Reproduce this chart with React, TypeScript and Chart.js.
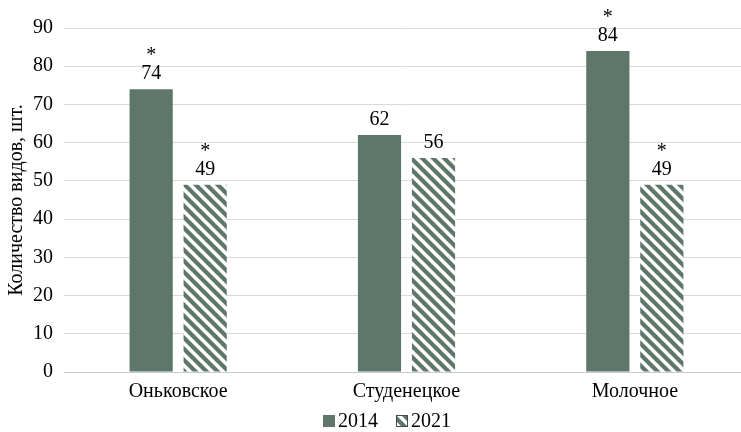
import React, { useEffect, useRef } from 'react';
import { Chart, registerables } from 'chart.js';

Chart.register(...registerables);

const categories = ['Оньковское', 'Студенецкое', 'Молочное'];
const seriesNames = ['2014', '2021'];
const values2014 = [74, 62, 84];
const values2021 = [49, 56, 49];
const stars2014 = [true, false, true];
const stars2021 = [true, false, true];
const yMin = 0;
const yMax = 90;
const yStep = 10;
const yTitle = 'Количество видов, шт.';

const FONT = "'Liberation Serif', 'Times New Roman', serif";
const GREEN = '#5f776b';

function makeHatch(color: string): CanvasPattern | string {
  const s = 11;
  const c = document.createElement('canvas');
  c.width = s;
  c.height = s;
  const ctx = c.getContext('2d');
  if (!ctx) return color;
  ctx.fillStyle = '#ffffff';
  ctx.fillRect(0, 0, s, s);
  ctx.strokeStyle = color;
  ctx.lineWidth = 4.2;
  for (const o of [-s, 0, s]) {
    ctx.beginPath();
    ctx.moveTo(o - 2, -2);
    ctx.lineTo(o + s + 2, s + 2);
    ctx.stroke();
  }
  return ctx.createPattern(c, 'repeat') || color;
}

const starsBySeries = [stars2014, stars2021];

const labelPlugin = {
  id: 'valueLabels',
  afterDatasetsDraw(chart: any) {
    const ctx = chart.ctx;
    ctx.save();
    ctx.fillStyle = '#000';
    ctx.textAlign = 'center';
    ctx.textBaseline = 'alphabetic';
    chart.data.datasets.forEach((ds: any, di: number) => {
      const meta = chart.getDatasetMeta(di);
      meta.data.forEach((bar: any, i: number) => {
        const v = ds.data[i];
        ctx.font = `20px ${FONT}`;
        ctx.fillText(String(v), bar.x, bar.y - 10);
        if (starsBySeries[di][i]) {
          ctx.fillText('*', bar.x, bar.y - 28);
        }
      });
    });
    ctx.restore();
  },
};

const legendPlugin = {
  id: 'customLegend',
  afterDraw(chart: any) {
    const ctx = chart.ctx;
    ctx.save();
    ctx.font = `20px ${FONT}`;
    ctx.textBaseline = 'middle';
    ctx.textAlign = 'left';
    const box = 12;
    const gapBoxText = 3;
    const gapItems = 18;
    const items = chart.data.datasets.map((ds: any) => ({
      label: ds.label,
      fill: ds.backgroundColor,
      w: box + gapBoxText + ctx.measureText(ds.label).width,
    }));
    const total = items.reduce((s: number, it: any) => s + it.w, 0) + gapItems * (items.length - 1);
    const cx = 387;
    const cy = 421;
    let x = cx - total / 2;
    items.forEach((it: any, idx: number) => {
      ctx.fillStyle = it.fill;
      ctx.fillRect(x, cy - box / 2, box, box);
      if (idx === 1) {
        ctx.strokeStyle = '#3f4f47';
        ctx.lineWidth = 1;
        ctx.strokeRect(x + 0.5, cy - box / 2 + 0.5, box - 1, box - 1);
      }
      ctx.fillStyle = '#000';
      ctx.fillText(it.label, x + box + gapBoxText, cy + 1);
      x += it.w + gapItems;
    });
    ctx.restore();
  },
};

export default function App() {
  const ref = useRef<HTMLCanvasElement | null>(null);

  useEffect(() => {
    if (!ref.current) return;
    const hatch = makeHatch(GREEN);
    const chart = new Chart(ref.current, {
      type: 'bar',
      data: {
        labels: categories,
        datasets: [
          {
            label: seriesNames[0],
            data: values2014,
            backgroundColor: GREEN,
            categoryPercentage: 0.473,
            barPercentage: 0.8,
          },
          {
            label: seriesNames[1],
            data: values2021,
            backgroundColor: hatch as any,
            categoryPercentage: 0.473,
            barPercentage: 0.8,
          },
        ],
      },
      options: {
        responsive: false,
        animation: false,
        layout: { padding: { top: 28, right: 3, bottom: 30, left: 0 } },
        plugins: {
          legend: { display: false },
          tooltip: { enabled: false },
        },
        scales: {
          x: {
            grid: { display: false, drawTicks: false },
            border: { display: true, color: '#c9c9c9', width: 1 },
            ticks: {
              color: '#000',
              font: { family: FONT, size: 20 },
              padding: 8,
              maxRotation: 0,
            },
            afterFit(scale: any) {
              scale.height = 30;
            },
          },
          y: {
            min: yMin,
            max: yMax,
            ticks: {
              stepSize: yStep,
              color: '#000',
              font: { family: FONT, size: 20 },
              padding: 11,
            },
            grid: { color: '#d9d9d9', drawTicks: false },
            border: { display: false },
            title: {
              display: true,
              text: yTitle,
              color: '#000',
              font: { family: FONT, size: 20 },
              padding: { top: 5, bottom: 0 },
            },
            afterFit(scale: any) {
              scale.width = 64;
            },
          },
        },
      },
      plugins: [labelPlugin, legendPlugin],
    });
    return () => chart.destroy();
  }, []);

  return (
    <div style={{ position: 'absolute', left: 0, top: 0, width: 741, height: 432, overflow: 'hidden', background: '#fff' }}>
      <canvas ref={ref} width={752} height={432} style={{ display: 'block' }} />
    </div>
  );
}
